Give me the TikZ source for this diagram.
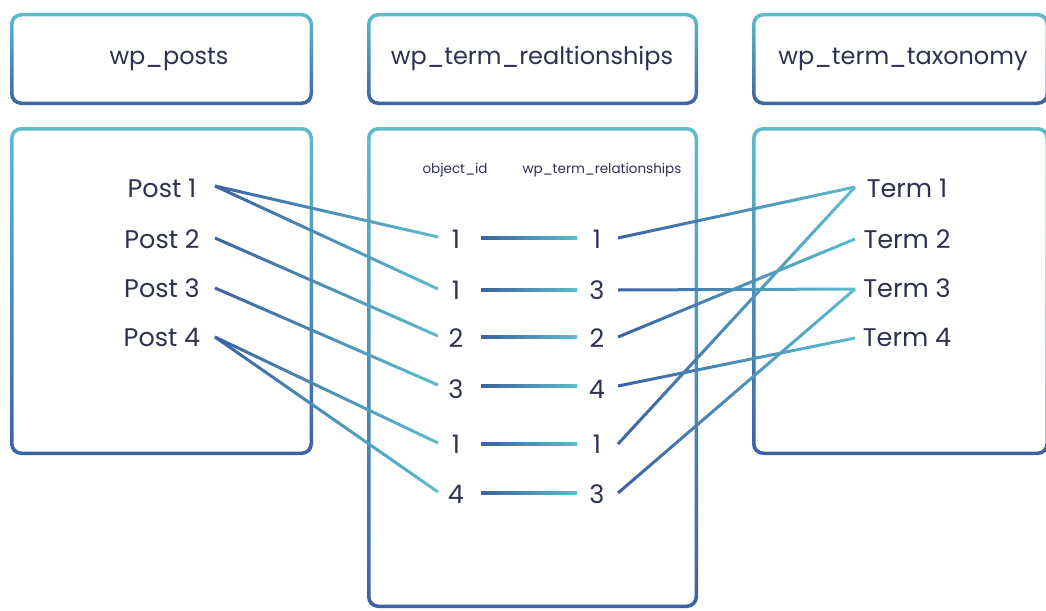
\documentclass[tikz,border=0pt]{standalone}
\usepackage{fontspec}
\setmainfont{Poppins}
\usetikzlibrary{calc}
\definecolor{dk}{HTML}{3C62A2}
\definecolor{lt}{HTML}{5DBDCC}
\definecolor{ink}{HTML}{2E3150}

% rounded frame whose border fades from cyan (top) to blue (bottom)
\newcommand\gframe[4]{%
  \shade[top color=lt, bottom color=dk, even odd rule]
    [rounded corners=11] (#1,#2) rectangle (#3,#4)
    [rounded corners=8] (#1+3.5,#2+3.5) rectangle (#3-3.5,#4-3.5);}

% connector of width 3pt fading from blue (left end) to cyan (right end)
\newcommand\glink[2]{%
  \shade[left color=dk, right color=lt]
    ($(#1)!1.5pt!90:(#2)$) -- ($(#2)!1.5pt!-90:(#1)$) --
    ($(#2)!1.5pt!90:(#1)$) -- ($(#1)!1.5pt!-90:(#2)$) -- cycle;}

\begin{document}
\begin{tikzpicture}[x=1pt,y=-1pt,
  title/.style={anchor=base, text=ink, font=\fontsize{24}{26}\selectfont, inner sep=0pt},
  item/.style={anchor=base, text=ink, font=\fontsize{25.5}{28}\selectfont, inner sep=0pt},
  colhead/.style={anchor=base, text=ink, font=\fontsize{13.5}{15}\selectfont, inner sep=0pt}]
\useasboundingbox[fill=white] (0,0) rectangle (1046,610);
\clip (0,0) rectangle (1046,610);

% table frames
\gframe{10}{13}{313}{105}
\gframe{367}{13}{698}{105}
\gframe{752}{13}{1049}{105}
\gframe{10}{127}{313}{455}
\gframe{367}{127}{698}{608}
\gframe{752}{127}{1049}{455}

% table titles
\node[title] (tposts) at (169,64) {wp\_posts};
\node[title] (trel)   at (532,64) {wp\_term\_realtionships};
\node[title] (ttax)   at (903,64) {wp\_term\_taxonomy};

% column headings of the relationship table
\node[colhead] (hobj) at (455,173) {object\_id};
\node[colhead] (hrel) at (602,173) {wp\_term\_relationships};

% posts
\foreach \i/\b in {1/197,2/248,3/297,4/346}
  \node[item] (post\i) at (162,\b) {Post \i};
% terms
\foreach \i/\b in {1/197,2/248,3/297,4/346}
  \node[item] (term\i) at (907,\b) {Term \i};
% relationship rows: object_id and term id
\foreach \r/\b/\o/\t in {1/248/1/1, 2/299/1/3, 3/347/2/2, 4/398/3/4, 5/453/1/1, 6/503/4/3} {
  \node[item] (obj\r) at (456,\b) {\o};
  \node[item] (tid\r) at (597,\b) {\t};
}

% connector ends
\foreach \i/\y in {1/186,2/238,3/288,4/337} {
  \coordinate (post\i p) at (215,\y);
  \coordinate (term\i p) at (855,\y+1);
}
\foreach \r/\y in {1/238,2/290,3/337,4/386,5/444,6/493} {
  \coordinate (obj\r w) at (438,\y-1);
  \coordinate (obj\r e) at (481,\y);
  \coordinate (tid\r w) at (577,\y);
  \coordinate (tid\r e) at (618,\y);
}

% posts to object ids
\glink{post1p}{obj1w}
\glink{post1p}{obj2w}
\glink{post2p}{obj3w}
\glink{post3p}{obj4w}
\glink{post4p}{obj5w}
\glink{post4p}{obj6w}

% rows of the relationship table
\foreach \r in {1,...,6} { \glink{obj\r e}{tid\r w} }

% term ids to terms
\glink{tid1e}{term1p}
\glink{tid2e}{term3p}
\glink{tid3e}{term2p}
\glink{tid4e}{term4p}
\glink{tid5e}{term1p}
\glink{tid6e}{term3p}
\end{tikzpicture}
\end{document}
